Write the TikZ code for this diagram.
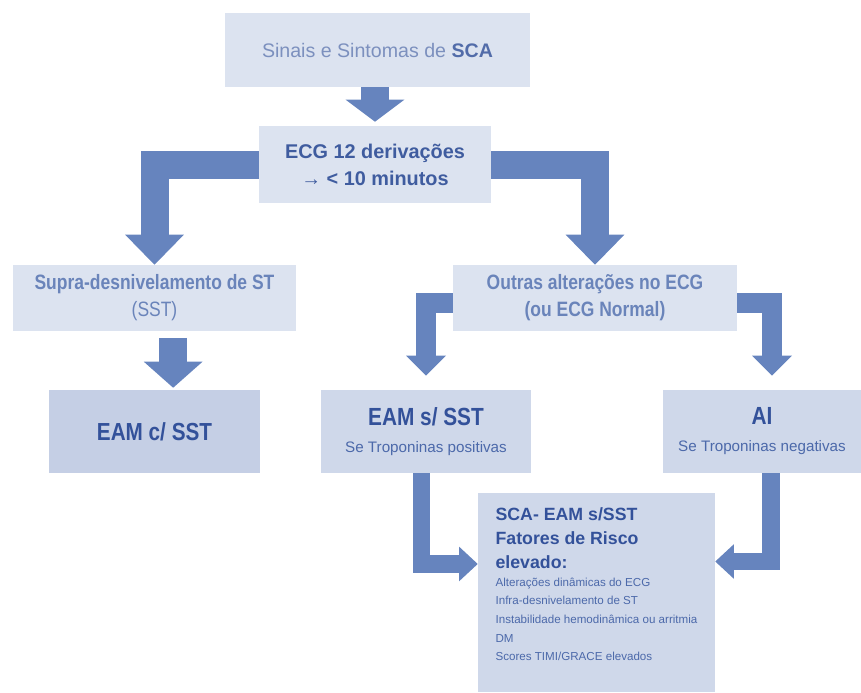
\documentclass[tikz,border=0pt]{standalone}
\usepackage{fontspec}
\setmainfont{Liberation Sans}
\newfontfamily\narrowsans[FakeStretch=0.84]{Liberation Sans}
\usepackage{xcolor}
\usetikzlibrary{arrows.meta,positioning,calc}
\definecolor{boxlight}{HTML}{DCE3F0}
\definecolor{boxmid}{HTML}{CFD8EA}
\definecolor{boxdark}{HTML}{C5CFE5}
\definecolor{arrowblue}{HTML}{6684BE}
\definecolor{txtgray}{HTML}{7C90BE}
\definecolor{txtmid}{HTML}{6A84BA}
\definecolor{txtblue}{HTML}{3F5C9F}
\definecolor{txtdark}{HTML}{33519A}
\definecolor{txtsmall}{HTML}{4C69AA}
\tikzset{
  box/.style={rectangle, fill=boxlight, inner sep=0pt, align=center},
  midbox/.style={box, fill=boxmid, minimum height=62.25pt, text=txtsmall, font=\fontsize{11.4}{20.25}\selectfont},
  bigarrow/.style={draw=arrowblue, line width=21pt, line join=miter, -{Triangle[length=#1, width=44pt, line width=0pt]}},
  bigarrow/.default=22.5pt,
  smallarrow/.style={draw=arrowblue, line width=15pt, line join=miter, -{Triangle[length=15pt, width=30pt, line width=0pt]}},
  tinyarrow/.style={draw=arrowblue, line width=13pt, line join=miter, -{Triangle[length=14pt, width=26pt, line width=0pt]}}
}

\begin{document}
\begin{tikzpicture}[x=0.75pt, y=-0.75pt]
	\useasboundingbox (0,0) rectangle (861,693);
	\node[box, minimum width=228.75pt, minimum height=55.5pt, text=txtgray, font=\fontsize{14.7}{18}\selectfont] (sinais) at (377.5,50) {Sinais e Sintomas de \textcolor{txtblue!90}{\bfseries SCA}};
	\node[box, minimum width=174pt, minimum height=57.75pt, text=txtblue, font=\fontsize{14.9}{20.25}\selectfont\bfseries] (ecg) at (375,164.5) {ECG 12 derivações\\→ < 10 minutos};
	\node[box, minimum width=212.25pt, minimum height=49.5pt, text=txtmid, font=\fontsize{15.6}{20.25}\selectfont\narrowsans] (supra) at (154.5,298) {\textbf{Supra-desnivelamento de ST}\\(SST)};
	\node[box, minimum width=213pt, minimum height=49.5pt, text=txtmid, font=\fontsize{15.6}{20.25}\selectfont\narrowsans\bfseries] (outras) at (595,298) {Outras alterações no ECG\\(ou ECG Normal)};
	\node[box, fill=boxdark, minimum width=158.25pt, minimum height=62.25pt, text=txtdark, font=\fontsize{18.5}{22}\selectfont\narrowsans\bfseries] (eamc) at (154.5,431.5) {EAM c/ SST};
	\node[midbox, minimum width=157.5pt] (eams) at (426,431.5) {\textcolor{txtdark}{\fontsize{18.6}{20.25}\selectfont\narrowsans\bfseries EAM s/ SST}\\Se Troponinas positivas};
	\node[midbox, minimum width=148.5pt] (ai) at (762,431.5) {\textcolor{txtdark}{\fontsize{18.6}{20.25}\selectfont\narrowsans\bfseries AI}\\Se Troponinas negativas};
	\node[box, fill=boxmid, minimum width=177.75pt, minimum height=149.25pt, align=left, text=txtsmall, font=\fontsize{8.7}{14}\selectfont] (risco) at (596.5,592.5) {{\color{txtdark}\fontsize{13.3}{14}\selectfont\bfseries SCA- EAM s/SST}\\[4pt]
		{\color{txtdark}\fontsize{13.3}{14}\selectfont\bfseries Fatores de Risco}\\[4pt]
		{\color{txtdark}\fontsize{13.3}{14}\selectfont\bfseries elevado:}\\[-1pt]
		Alterações dinâmicas do ECG\\
		Infra-desnivelamento de ST\\
		Instabilidade hemodinâmica ou arritmia\\
		DM\\
		Scores TIMI/GRACE elevados\rule[-12pt]{0pt}{12pt}};
	\draw[bigarrow=16.5pt] (ecg.north |- sinais.south) -- ([yshift=3pt]ecg.north);
	\draw[bigarrow] (ecg.west) -| (supra.north);
	\draw[bigarrow] (ecg.east) -| (outras.north);
	\draw[bigarrow=19.5pt] ([xshift=14pt,yshift=-5pt]supra.south) -- ([xshift=14pt,yshift=1.5pt]eamc.north);
	\draw[smallarrow] ([yshift=-3.75pt]outras.west) -| ([yshift=10.5pt]eams.north);
	\draw[smallarrow] ([yshift=-3.75pt]outras.east) -| ([xshift=7.5pt,yshift=10.5pt]ai.north);
	\draw[tinyarrow] ([xshift=-3.4pt]eams.south) |- ([yshift=21.4pt]risco.west);
	\draw[tinyarrow] ([xshift=6.75pt]ai.south) |- ([yshift=23.25pt]risco.east);
\end{tikzpicture}
\end{document}
